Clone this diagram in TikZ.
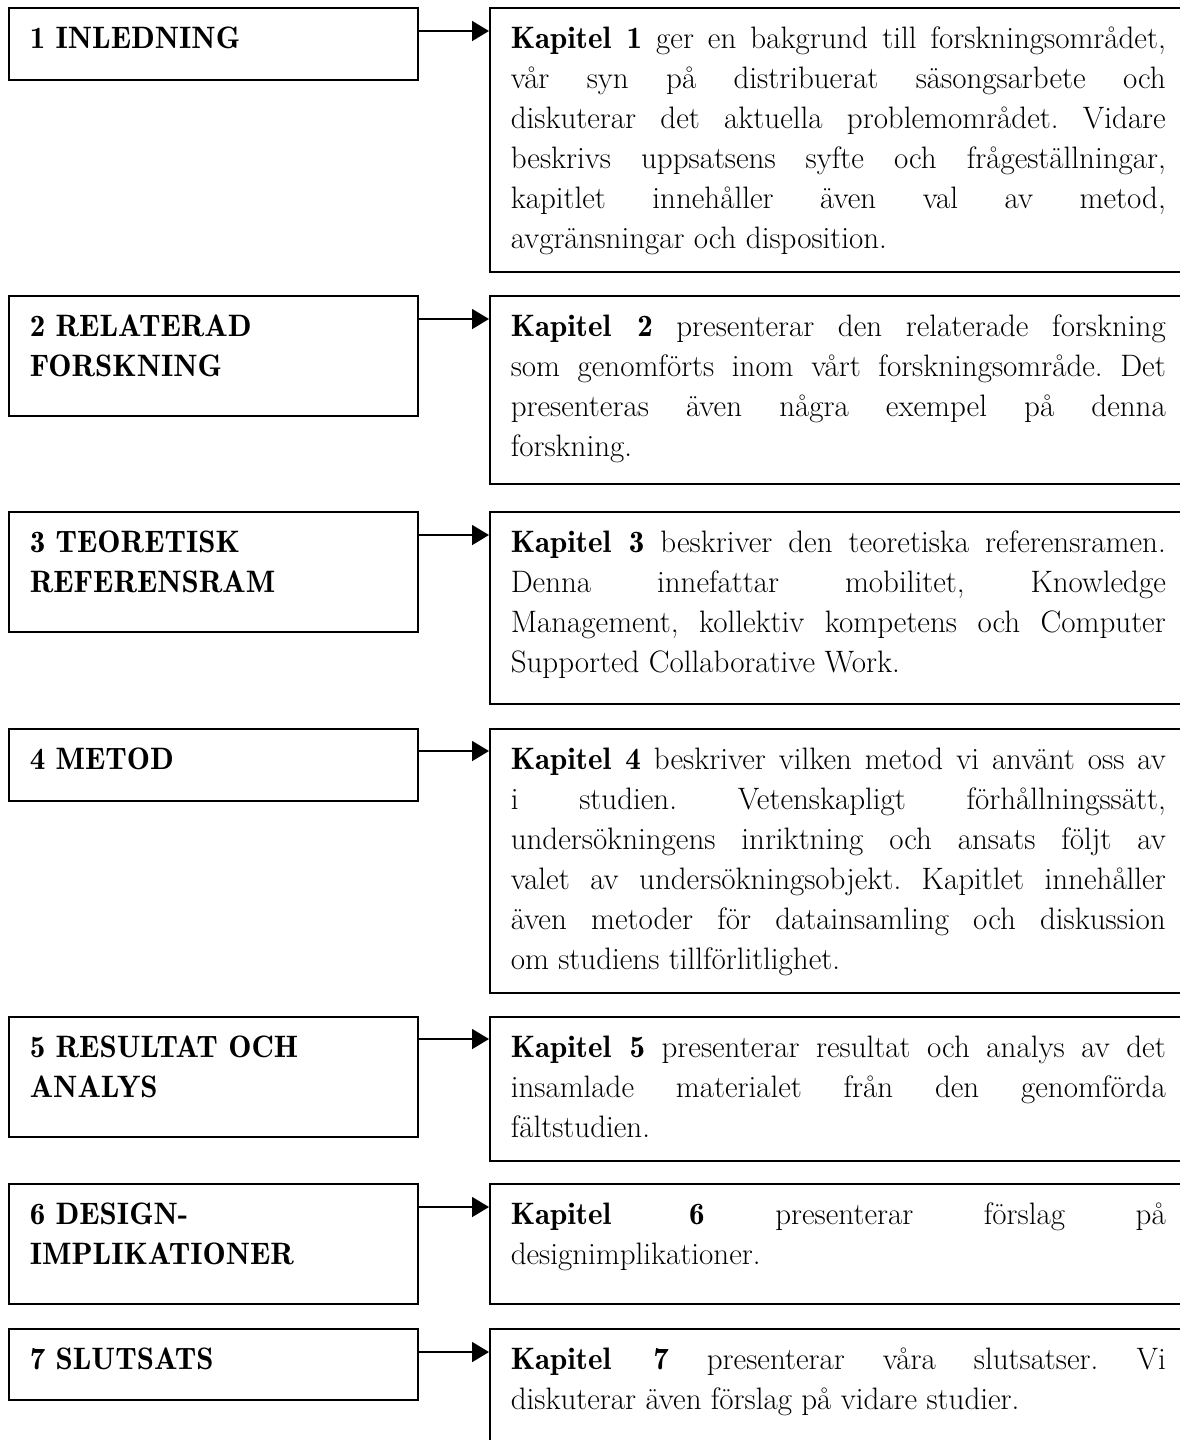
\documentclass[tikz,border=0pt]{standalone}
\usepackage{tikz}
\usetikzlibrary{arrows.meta}
\renewcommand{\bfdefault}{b}

% text set at the top of a box of fixed height
\newcommand{\boxtext}[3]{\parbox[t][#2][t]{#1}{\frenchspacing\hyphenpenalty10000 \tolerance10000 \strut#3}}

\begin{document}
\begin{tikzpicture}[x=1pt,y=-1pt,
  chapter/.style={draw, line width=1.6pt, anchor=north west, inner xsep=21pt, inner ysep=13pt,
    font=\fontsize{31}{40}\selectfont\bfseries},
  summary/.style={draw, line width=1.6pt, anchor=north west, inner xsep=21pt, inner ysep=13pt,
    font=\fontsize{31}{40}\selectfont},
  link/.style={-{Triangle[length=17pt,width=20pt]}, line width=1.6pt}]
\useasboundingbox (0,0) rectangle (1180,1440);

% Left column: chapters
\node[chapter] (l1) at (8,7)    {\boxtext{367pt}{46pt}{1 INLEDNING}};
\node[chapter] (l2) at (8,295)  {\boxtext{367pt}{94pt}{2 RELATERAD\\FORSKNING}};
\node[chapter] (l3) at (8,511)  {\boxtext{367pt}{94pt}{3 TEORETISK\\REFERENSRAM}};
\node[chapter] (l4) at (8,728)  {\boxtext{367pt}{46pt}{4 METOD}};
\node[chapter] (l5) at (8,1016) {\boxtext{367pt}{94pt}{5 RESULTAT OCH\\ANALYS}};
\node[chapter] (l6) at (8,1183) {\boxtext{367pt}{94pt}{6 DESIGN-\\IMPLIKATIONER}};
\node[chapter] (l7) at (8,1328) {\boxtext{367pt}{45pt}{7 SLUTSATS}};

% Right column: what each chapter holds
\node[summary] (r1) at (489,7) {\boxtext{655pt}{238pt}{\textbf{Kapitel 1} ger en bakgrund till forskningsområdet,\linebreak
vår syn på distribuerat säsongsarbete och\linebreak
diskuterar det aktuella problemområdet. Vidare\linebreak
beskrivs uppsatsens syfte och frågeställningar,\linebreak
kapitlet innehåller även val av metod,\linebreak
avgränsningar och disposition.}};
\node[summary] (r2) at (489,295) {\boxtext{655pt}{162pt}{\textbf{Kapitel 2} presenterar den relaterade forskning\linebreak
som genomförts inom vårt forskningsområde. Det\linebreak
presenteras även några exempel på denna\linebreak
forskning.}};
\node[summary] (r3) at (489,511) {\boxtext{655pt}{166pt}{\textbf{Kapitel 3} beskriver den teoretiska referensramen.\linebreak
Denna innefattar mobilitet, Knowledge\linebreak
Management, kollektiv kompetens och Computer\linebreak
Supported Collaborative Work.}};
\node[summary] (r4) at (489,728) {\boxtext{655pt}{238pt}{\textbf{Kapitel 4} beskriver vilken metod vi använt oss av\linebreak
i studien. Vetenskapligt förhållningssätt,\linebreak
undersökningens inriktning och ansats följt av\linebreak
valet av undersökningsobjekt. Kapitlet innehåller\linebreak
även metoder för datainsamling och diskussion\linebreak
om studiens tillförlitlighet.}};
\node[summary] (r5) at (489,1016) {\boxtext{655pt}{118pt}{\textbf{Kapitel 5} presenterar resultat och analys av det\linebreak
insamlade materialet från den genomförda\linebreak
fältstudien.}};
\node[summary] (r6) at (489,1183) {\boxtext{655pt}{94pt}{\textbf{Kapitel 6} presenterar förslag på\linebreak
designimplikationer.}};
\node[summary] (r7) at (489,1328) {\boxtext{655pt}{130pt}{\textbf{Kapitel 7} presenterar våra slutsatser. Vi\linebreak
diskuterar även förslag på vidare studier.}};

% Arrows
\draw[link] ([yshift=-24pt]l1.north east) -- ([yshift=-24pt]r1.north west);
\draw[link] ([yshift=-24pt]l2.north east) -- ([yshift=-24pt]r2.north west);
\draw[link] ([yshift=-24pt]l3.north east) -- ([yshift=-24pt]r3.north west);
\draw[link] ([yshift=-23pt]l4.north east) -- ([yshift=-23pt]r4.north west);
\draw[link] ([yshift=-23pt]l5.north east) -- ([yshift=-23pt]r5.north west);
\draw[link] ([yshift=-24pt]l6.north east) -- ([yshift=-24pt]r6.north west);
\draw[link] ([yshift=-24pt]l7.north east) -- ([yshift=-24pt]r7.north west);
\end{tikzpicture}
\end{document}
